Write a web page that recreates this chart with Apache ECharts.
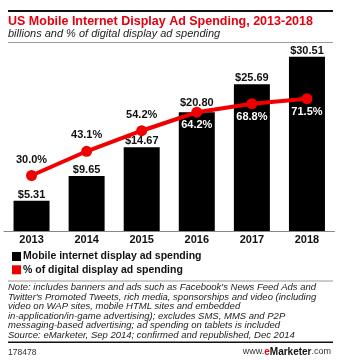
<!DOCTYPE html>
<html>
<head>
<meta charset="utf-8">
<script src="https://cdn.jsdelivr.net/npm/echarts@6/dist/echarts.min.js"></script>
<style>
  html, body { margin: 0; padding: 0; background: #fff; }
  #chart { width: 341px; height: 360px; }
</style>
</head>
<body>
<div id="chart"></div>
<script>
// US mobile internet display ad spending, 2013-2018
const years = ['2013', '2014', '2015', '2016', '2017', '2018'];
const spending = [5.31, 9.65, 14.67, 20.80, 25.69, 30.51];      // billions of $
const shareOfDisplay = [30.0, 43.1, 54.2, 64.2, 68.8, 71.5];     // % of digital display ad spending
const seriesNames = ['Mobile internet display ad spending', '% of digital display ad spending'];

const titleText = 'US Mobile Internet Display Ad Spending, 2013-2018';
const subtitleText = 'billions and % of digital display ad spending';
const noteLines = [
  "Note: includes banners and ads such as Facebook's News Feed Ads and",
  "Twitter's Promoted Tweets, rich media, sponsorships and video (including",
  "video on WAP sites, mobile HTML sites and embedded",
  "in-application/in-game advertising); excludes SMS, MMS and P2P",
  "messaging-based advertising; ad spending on tablets is included",
  "Source: eMarketer, Sep 2014; confirmed and republished, Dec 2014"
];
const chartId = '178478';

const RED = '#e3000f';
const LINE_RED = '#f00000';
const FONT = 'Liberation Sans, Arial, sans-serif';

const chart = echarts.init(document.getElementById('chart'), null, { renderer: 'canvas' });

// labels above the line for early years, white labels inside the bars later on
const shareData = shareOfDisplay.map((v, i) => {
  const inside = i >= 3;
  return {
    value: v,
    label: {
      position: inside ? 'bottom' : 'top',
      distance: inside ? 2 : 5,
      color: inside ? '#fff' : '#111'
    }
  };
});

// lift the bar label a little where the line passes right over the bar top
const spendingData = spending.map((v, i) => ({
  value: v,
  label: { distance: i === 3 ? 3.5 : 0.5 }
}));

const noteGraphics = noteLines.map((line, i) => ({
  type: 'text',
  left: 8,
  top: 282.4 + i * 9.55,
  style: { text: line, font: 'italic 9.5px ' + FONT, fill: '#222' }
}));

chart.setOption({
  animation: false,
  textStyle: { fontFamily: FONT },
  grid: { left: 4, right: 6.5, top: 46, bottom: 129 },
  legend: {
    orient: 'vertical',
    left: 7,
    top: 246,
    itemWidth: 9,
    itemHeight: 9,
    itemGap: 2.3,
    icon: 'rect',
    selectedMode: false,
    textStyle: { fontFamily: FONT, fontWeight: 'bold', fontSize: 10.5, color: '#111', padding: [0, 0, 0, -3] },
    data: [
      { name: seriesNames[0], itemStyle: { color: '#000' } },
      { name: seriesNames[1], itemStyle: { color: LINE_RED } }
    ]
  },
  xAxis: {
    type: 'category',
    data: years,
    axisLine: { lineStyle: { color: '#888', width: 1 } },
    axisTick: { show: false },
    axisLabel: { color: '#111', fontWeight: 'bold', fontSize: 11, margin: 3 }
  },
  yAxis: [
    { type: 'value', min: 0, max: 32.4, show: false, splitLine: { show: false } },
    { type: 'value', min: 0, max: 100, show: false, splitLine: { show: false } }
  ],
  series: [
    {
      name: seriesNames[0],
      type: 'bar',
      data: spendingData,
      barWidth: 36,
      itemStyle: { color: '#000' },
      label: {
        show: true,
        position: 'top',
        color: '#111',
        fontWeight: 'bold',
        fontSize: 11,
        formatter: p => '$' + p.value.toFixed(2)
      },
      z: 2
    },
    {
      name: seriesNames[1],
      type: 'line',
      yAxisIndex: 1,
      data: shareData,
      symbol: 'circle',
      symbolSize: 11,
      lineStyle: { color: LINE_RED, width: 4 },
      itemStyle: { color: LINE_RED },
      label: {
        show: true,
        fontWeight: 'bold',
        fontSize: 11,
        formatter: p => p.value.toFixed(1) + '%'
      },
      z: 3
    }
  ],
  graphic: [
    { type: 'rect', shape: { x: 8, y: 10, width: 325, height: 2 }, style: { fill: '#111' } },
    { type: 'text', left: 8, top: 15.5, style: { text: titleText, font: 'bold 12.5px ' + FONT, fill: RED } },
    { type: 'text', left: 8, top: 28.5, style: { text: subtitleText, font: 'italic 11px ' + FONT, fill: '#222' } },
    { type: 'rect', shape: { x: 8, y: 42, width: 325, height: 1 }, style: { fill: '#999' } },
    { type: 'rect', shape: { x: 8, y: 280.5, width: 325, height: 1 }, style: { fill: '#999' } },
    ...noteGraphics,
    { type: 'rect', shape: { x: 8, y: 341.5, width: 325, height: 1.5 }, style: { fill: '#111' } },
    { type: 'text', left: 8, top: 348, style: { text: chartId, font: '8.5px ' + FONT, fill: '#333' } },
    {
      type: 'text',
      right: 10,
      top: 347,
      style: {
        text: '{w|www.}{e|e}{m|Marketer}{w|.com}',
        rich: {
          w: { font: '9px ' + FONT, fill: '#333' },
          e: { font: 'bold 10px ' + FONT, fill: RED },
          m: { font: 'bold 10px ' + FONT, fill: '#111' }
        }
      }
    }
  ]
});
</script>
</body>
</html>
